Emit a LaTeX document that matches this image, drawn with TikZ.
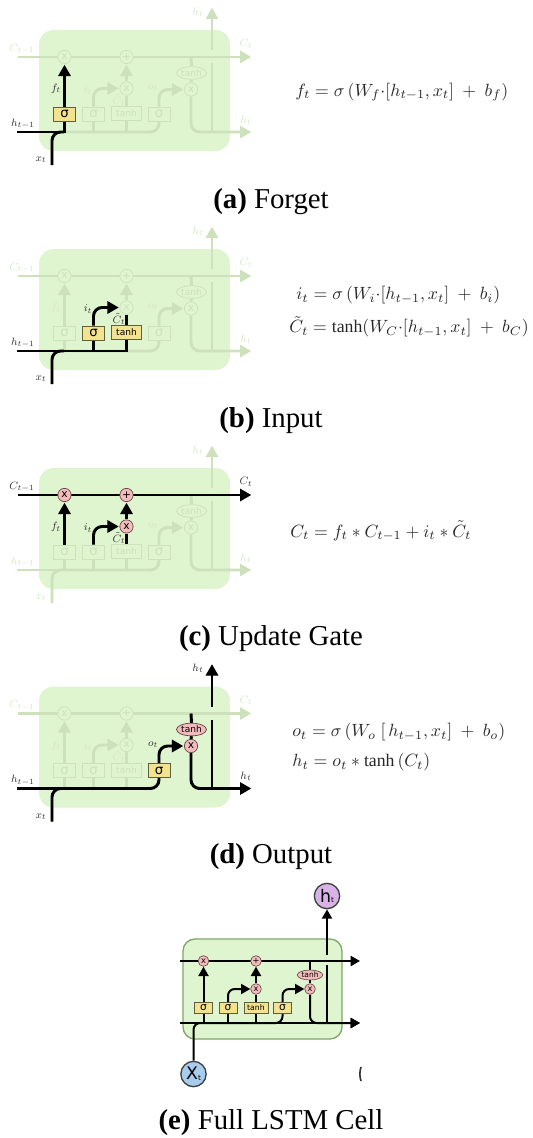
\documentclass[tikz,border=0pt]{standalone}
\usepackage{fontspec}
\usepackage{amsmath}
\setmainfont{Liberation Serif}
\newfontfamily\cellfont{DejaVu Sans}
\usetikzlibrary{arrows.meta,shapes.geometric}
\pgfdeclarelayer{bglayer}
\pgfdeclarelayer{midlayer}
\pgfsetlayers{bglayer,midlayer,main}
\definecolor{cellbox}{HTML}{DFF5CF}
\definecolor{fadeline}{HTML}{CDE2BC}
\definecolor{fadelab}{HTML}{D5E6C8}
\definecolor{hotyellow}{HTML}{F3E38E}
\definecolor{hotpink}{HTML}{F3BCBC}
\definecolor{boxedge}{HTML}{5F5F3A}
\definecolor{pinkedge}{HTML}{6A4A4A}
\definecolor{fullbox}{HTML}{DFF5CF}
\definecolor{fulledge}{HTML}{7FA56C}
\definecolor{hcirc}{HTML}{D9B3E8}
\definecolor{xcirc}{HTML}{A8CCEC}
\tikzset{
  x=0.75pt,y=-0.75pt,
  bodybase/.style={rectangle,inner sep=0pt,minimum height=10.4pt,font=\cellfont\fontsize{10}{10}\selectfont,line width=.55pt},
  sigmabox/.style={bodybase,minimum width=16.5pt},
  tanhbox/.style={bodybase,minimum width=22.5pt,font=\cellfont\fontsize{6.8}{7}\selectfont},
  offbox/.style={draw=fadeline,fill=cellbox,text=fadeline},
  hotbox/.style={draw=boxedge,fill=hotyellow,text=black},
  opbase/.style={circle,inner sep=0pt,minimum size=10pt,font=\cellfont\fontsize{8}{8}\selectfont,line width=.55pt},
  tanbase/.style={ellipse,inner sep=0pt,minimum width=22.5pt,minimum height=9.5pt,font=\cellfont\fontsize{6.8}{7}\selectfont,line width=.55pt},
  offop/.style={draw=fadeline,fill=cellbox,text=fadeline},
  hotop/.style={draw=pinkedge,fill=hotpink,text=black},
  nS1/.style={offbox},nS2/.style={offbox},nT/.style={offbox},nS3/.style={offbox},
  nX1/.style={offop},nP/.style={offop},nX2/.style={offop},nX3/.style={offop},nTan/.style={offop},
  offlab/.style={text=fadelab},
  onlab/.style={text=black!80},
  lC0/.style={offlab},lC1/.style={offlab},lH0/.style={offlab},lH1/.style={offlab},lX/.style={offlab},
  lHt/.style={offlab},lF/.style={offlab},lI/.style={offlab},lCt/.style={offlab},lO/.style={offlab},
  celllab/.style={inner sep=0pt,font=\fontsize{8}{8}\selectfont},
  fadewire/.style={draw=fadeline,line width=2.2pt,rounded corners=6.5pt},
  hotwire/.style={draw=black,line width=2.2pt,rounded corners=6.5pt},
  fadetip/.style={-{Triangle[length=8.5pt,width=9pt]},shorten >=.5pt},
  hottip/.style={-{Triangle[length=8.5pt,width=9pt]},shorten >=.5pt},
  eqn/.style={anchor=west,inner sep=0pt,scale=1.33,text=black!85},
  capt/.style={inner sep=0pt,font=\fontsize{21.6}{24}\selectfont},
  fullwire/.style={draw=black,line width=1.5pt,rounded corners=5pt},
  fulltip/.style={-{Triangle[length=7pt,width=7.5pt]}},
  fullsig/.style={rectangle,draw=boxedge,fill=hotyellow,inner sep=0pt,minimum width=13.5pt,minimum height=8pt,font=\cellfont\fontsize{8}{8}\selectfont,line width=.5pt},
  fulltan/.style={fullsig,minimum width=18pt,font=\cellfont\fontsize{5.8}{6}\selectfont},
  fullop/.style={circle,draw=pinkedge,fill=hotpink,inner sep=0pt,minimum size=8pt,font=\cellfont\fontsize{6.2}{6}\selectfont,line width=.5pt},
  fullell/.style={ellipse,draw=pinkedge,fill=hotpink,inner sep=0pt,minimum width=19pt,minimum height=7.5pt,font=\cellfont\fontsize{5.6}{6}\selectfont,line width=.5pt},
  bigcirc/.style={circle,draw=black!75,line width=1pt,inner sep=0pt,minimum size=19pt},
}
% #1 prefix, #2 y offset, #3 style overrides, #4 highlighted wires
\newcommand{\lstmpanel}[4]{%
\begin{scope}[shift={(0,#2)},#3]
  \coordinate (#1-C0) at (18,57);
  \coordinate (#1-C1) at (252,57);
  \coordinate (#1-H0) at (17,132);
  \coordinate (#1-H1) at (252,132);
  \coordinate (#1-Xin) at (52,165);
  \coordinate (#1-Hj) at (64,132);
  \coordinate (#1-Cj) at (191,57);
  \coordinate (#1-Tj) at (212,132);
  \coordinate (#1-Ga) at (212,63);
  \coordinate (#1-Gb) at (212,50);
  \coordinate (#1-Top) at (212,7);
  \node[sigmabox,nS1] (#1-s1) at (64.5,114) {σ};
  \node[sigmabox,nS2] (#1-s2) at (93.5,114) {σ};
  \node[tanhbox,nT] (#1-t) at (126.5,113.5) {tanh};
  \node[sigmabox,nS3] (#1-s3) at (159,114) {σ};
  \node[opbase,nX1] (#1-x1) at (64.5,57) {x};
  \node[opbase,nP] (#1-p) at (126.5,57) {+};
  \node[opbase,nX2] (#1-x2) at (126.5,88.5) {x};
  \node[opbase,nX3] (#1-x3) at (191,89.5) {x};
  \node[tanbase,nTan] (#1-tan) at (191.5,73) {tanh};
  \node[celllab,lC0] (#1-lc0) at (22,49) {$C_{t-1}$};
  \node[celllab,lC1] (#1-lc1) at (246,44) {$C_t$};
  \node[celllab,lH0] (#1-lh0) at (23,124) {$h_{t-1}$};
  \node[celllab,lH1] (#1-lh1) at (246,120) {$h_t$};
  \node[celllab,lX] (#1-lx) at (41,160) {$x_t$};
  \node[celllab,lHt] (#1-lht) at (198,12) {$h_t$};
  \node[celllab,lF] (#1-lf) at (56,89) {$f_t$};
  \node[celllab,lI] (#1-li) at (88,90) {$i_t$};
  \node[celllab,lCt] (#1-lct) at (119,100) {$\tilde C_t$};
  \node[celllab,lO] (#1-lo) at (153,88) {$o_t$};
  \begin{pgfonlayer}{bglayer}
    \fill[cellbox,rounded corners=11pt] (39,30) rectangle (230,151);
    \path[fadewire,fadetip] (#1-C0) -- (#1-C1);
    \path[fadewire] (#1-H0) -- (#1-Hj);
    \path[fadewire] (#1-Xin) |- (#1-Hj);
    \path[fadewire] (#1-Hj) -| (#1-s3.south);
    \path[fadewire] (#1-s1.south) -- (#1-s1.south |- #1-Hj);
    \path[fadewire] (#1-s2.south) -- (#1-s2.south |- #1-Hj);
    \path[fadewire] (#1-t.south) -- (#1-t.south |- #1-Hj);
    \path[fadewire,fadetip] (#1-s1.north) -- (#1-x1.south);
    \path[fadewire,fadetip] (#1-s2.north) |- (#1-x2.west);
    \path[fadewire] (#1-t.north) -- (#1-x2.south);
    \path[fadewire,fadetip] (#1-x2.north) -- (#1-p.south);
    \path[fadewire,fadetip] (#1-s3.north) |- (#1-x3.west);
    \path[fadewire] (#1-Cj) -- (#1-tan.north);
    \path[fadewire] (#1-tan.south) -- (#1-x3.north);
    \path[fadewire,fadetip] (#1-x3.south) |- (#1-H1);
    \path[fadewire] (#1-Tj) -- (#1-Ga);
    \path[fadewire,fadetip] (#1-Gb) -- (#1-Top);
  \end{pgfonlayer}
  \begin{pgfonlayer}{midlayer}
    #4
  \end{pgfonlayer}
\end{scope}}
\begin{document}
\begin{tikzpicture}
\useasboundingbox (0,0) rectangle (532,1138);

\lstmpanel{a}{0}{nS1/.style={hotbox},lH0/.style={onlab},lX/.style={onlab},lF/.style={onlab}}{
  \path[hotwire,sharp corners] (a-H0) -| (a-s1.south);
  \path[hotwire] (a-Xin) |- (a-Hj);
  \path[hotwire,hottip] (a-s1.north) -- (a-x1.south);
}
\lstmpanel{b}{219}{nS2/.style={hotbox},nT/.style={hotbox},lH0/.style={onlab},lX/.style={onlab},lI/.style={onlab},lCt/.style={onlab}}{
  \path[hotwire,sharp corners] (b-H0) -| (b-t.south);
  \path[hotwire] (b-Xin) |- (b-Hj);
  \path[hotwire] (b-s2.south) -- (b-s2.south |- b-Hj);
  \path[hotwire,hottip] (b-s2.north) |- (b-x2.west);
  \path[hotwire] (b-t.north) -- (b-x2.south);
}
\lstmpanel{c}{438}{nX1/.style={hotop},nP/.style={hotop},nX2/.style={hotop},lC0/.style={onlab},lC1/.style={onlab},lF/.style={onlab},lI/.style={onlab},lCt/.style={onlab}}{
  \path[hotwire,hottip] (c-C0) -- (c-C1);
  \path[hotwire,hottip] (c-s1.north) -- (c-x1.south);
  \path[hotwire,hottip] (c-s2.north) |- (c-x2.west);
  \path[hotwire] (c-t.north) -- (c-x2.south);
  \path[hotwire,hottip] (c-x2.north) -- (c-p.south);
}
\lstmpanel{d}{656.5}{nS3/.style={hotbox},nX3/.style={hotop},nTan/.style={hotop},lH0/.style={onlab},lH1/.style={onlab},lX/.style={onlab},lHt/.style={onlab},lO/.style={onlab}}{
  \path[hotwire] (d-H0) -| (d-s3.south);
  \path[hotwire] (d-Xin) |- (d-Hj);
  \path[hotwire,hottip] (d-s3.north) |- (d-x3.west);
  \path[hotwire] (d-Cj) -- (d-tan.north);
  \path[hotwire] (d-tan.south) -- (d-x3.north);
  \path[hotwire,hottip] (d-x3.south) |- (d-H1);
  \path[hotwire] (d-Tj) -- (d-Ga);
  \path[hotwire,hottip] (d-Gb) -- (d-Top);
}

% equations
\node[eqn] (eqa) at (295,92) {$f_t = \sigma\left(W_f{\cdot}[h_{t-1},x_t]\ +\ b_f\right)$};
\node[eqn] (eqb1) at (296,295) {$i_t = \sigma\left(W_i{\cdot}[h_{t-1},x_t]\ +\ b_i\right)$};
\node[eqn] (eqb2) at (289,327) {$\tilde C_t = \tanh(W_C{\cdot}[h_{t-1},x_t]\ +\ b_C)$};
\node[eqn] (eqc) at (290,531) {$C_t = f_t * C_{t-1} + i_t * \tilde C_t$};
\node[eqn] (eqd1) at (292,732) {$o_t = \sigma\left(W_o\ [\,h_{t-1},x_t]\ +\ b_o\right)$};
\node[eqn] (eqd2) at (292,762) {$h_t = o_t * \tanh\left(C_t\right)$};

% captions
\node[capt] (capa) at (271,202) {\textbf{(a)} Forget};
\node[capt] (capb) at (271,421) {\textbf{(b)} Input};
\node[capt] (capc) at (271,639) {\textbf{(c)} Update Gate};
\node[capt] (capd) at (271,857) {\textbf{(d)} Output};
\node[capt] (cape) at (271,1123) {\textbf{(e)} Full LSTM Cell};

% full cell
\coordinate (e-C0) at (180,961);
\coordinate (e-C1) at (360,961);
\coordinate (e-H0) at (180,1023);
\coordinate (e-H1) at (360,1023);
\coordinate (e-Hj) at (203,1023);
\coordinate (e-Cj) at (310,961);
\coordinate (e-Tj) at (327,1023);
\coordinate (e-Ga) at (327,965);
\coordinate (e-Gb) at (327,955);
\node[fullsig] (e-s1) at (203.5,1008) {σ};
\node[fullsig] (e-s2) at (228,1008) {σ};
\node[fulltan] (e-t) at (256,1008) {tanh};
\node[fullsig] (e-s3) at (282.5,1008) {σ};
\node[fullop] (e-x1) at (203.5,961) {x};
\node[fullop] (e-p) at (256,961) {+};
\node[fullop] (e-x2) at (256,989) {x};
\node[fullop] (e-x3) at (310,989) {x};
\node[fullell] (e-tan) at (310,975) {tanh};
\node[bigcirc,fill=hcirc] (e-ht) at (327,896) {\cellfont\fontsize{13}{13}\selectfont h\raisebox{-.5pt}{\fontsize{5.5}{6}\selectfont t}};
\node[bigcirc,fill=xcirc] (e-xt) at (193.5,1074) {\cellfont\fontsize{13}{13}\selectfont X\raisebox{-.5pt}{\fontsize{5.5}{6}\selectfont t}};
\begin{pgfonlayer}{bglayer}
  \draw[fill=fullbox,draw=fulledge,line width=1pt,rounded corners=9pt] (183,939) rectangle (342,1039);
\end{pgfonlayer}
\begin{pgfonlayer}{midlayer}
  \path[fullwire,fulltip] (e-C0) -- (e-C1);
  \path[fullwire,fulltip] (e-H0) -- (e-H1);
  \path[fullwire] (e-xt.north) |- (e-Hj);
  \path[fullwire] (e-Hj) -| (e-s3.south);
  \path[fullwire] (e-s1.south) -- (e-s1.south |- e-Hj);
  \path[fullwire] (e-s2.south) -- (e-s2.south |- e-Hj);
  \path[fullwire] (e-t.south) -- (e-t.south |- e-Hj);
  \path[fullwire,fulltip] (e-s1.north) -- (e-x1.south);
  \path[fullwire,fulltip] (e-s2.north) |- (e-x2.west);
  \path[fullwire] (e-t.north) -- (e-x2.south);
  \path[fullwire,fulltip] (e-x2.north) -- (e-p.south);
  \path[fullwire,fulltip] (e-s3.north) |- (e-x3.west);
  \path[fullwire] (e-Cj) -- (e-tan.north);
  \path[fullwire] (e-tan.south) -- (e-x3.north);
  \path[fullwire,fulltip] (e-x3.south) |- (e-H1);
  \path[fullwire] (e-Tj) -- (e-Ga);
  \path[fullwire,fulltip] (e-Gb) -- (e-ht.south);
\end{pgfonlayer}
% clipped fragment at the right of the cell picture
\draw[line width=1.2pt,black!80] (361,1067) .. controls (359.5,1071) and (359.5,1077) .. (361,1081);
\end{tikzpicture}
\end{document}
